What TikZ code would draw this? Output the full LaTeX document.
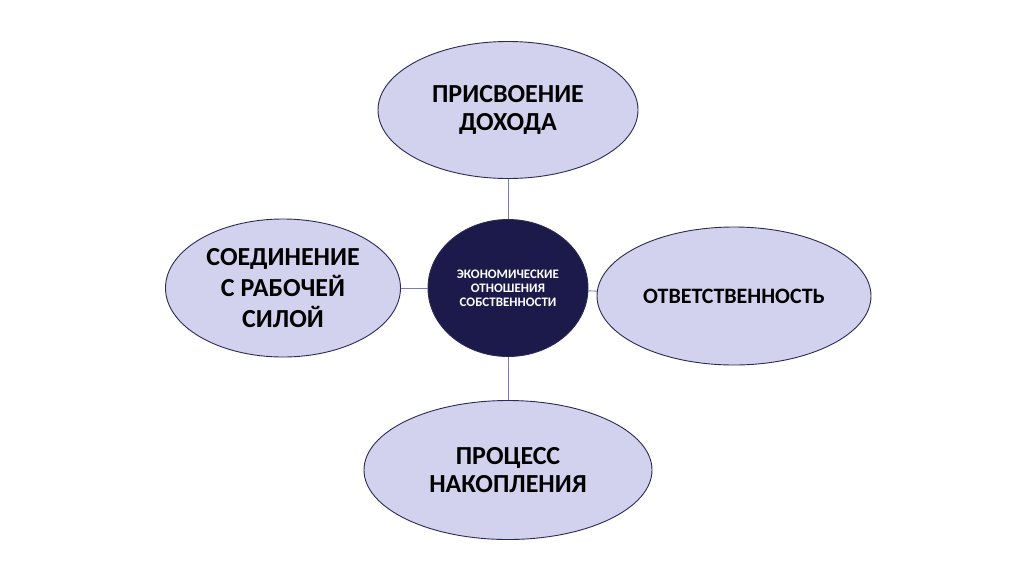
\documentclass[tikz,border=0pt]{standalone}
\usepackage{fontspec}
\setmainfont{Carlito}
\usetikzlibrary{shapes.geometric}
\definecolor{lavfill}{HTML}{D2D2EE}
\definecolor{corefill}{HTML}{1B1A4B}
\definecolor{rim}{HTML}{2A2A55}
\definecolor{linkcol}{HTML}{7A7AB8}

\begin{document}
\begin{tikzpicture}
[   x=1pt,y=-1pt,
    onode/.style={ellipse,draw=rim,fill=#1,line width=0.9pt,inner sep=0pt,align=center},
    big/.style={font=\fontsize{26}{28}\selectfont\bfseries},
    link/.style={draw=linkcol,line width=0.9pt},
]
    \useasboundingbox (0,0) rectangle (1024,574);

    % core and the four parts
    \node[onode=corefill,text=white,minimum width=160pt,minimum height=137pt,
          font=\fontsize{13}{14}\selectfont\bfseries] (core) at (508,288)
          {ЭКОНОМИЧЕСКИЕ\\ОТНОШЕНИЯ\\СОБСТВЕННОСТИ};
    \node[onode=lavfill,big,minimum width=260pt,minimum height=137pt] (top) at (508,110)
          {ПРИСВОЕНИЕ\\ДОХОДА};
    \node[onode=lavfill,minimum width=235pt,minimum height=138pt,
          font=\fontsize{26}{31}\selectfont\bfseries] (left) at (283,288)
          {СОЕДИНЕНИЕ\\С РАБОЧЕЙ\\СИЛОЙ};
    \node[onode=lavfill,minimum width=274pt,minimum height=138pt,
          font=\fontsize{22}{26}\selectfont\bfseries] (right) at (734,296)
          {ОТВЕТСТВЕННОСТЬ};
    \node[onode=lavfill,big,minimum width=288pt,minimum height=139pt] (bottom) at (508,470)
          {ПРОЦЕСС\\НАКОПЛЕНИЯ};

    \foreach \n in {top,left,right,bottom}
    {   \draw[link] (core) -- (\n);
    }
\end{tikzpicture}
\end{document}
